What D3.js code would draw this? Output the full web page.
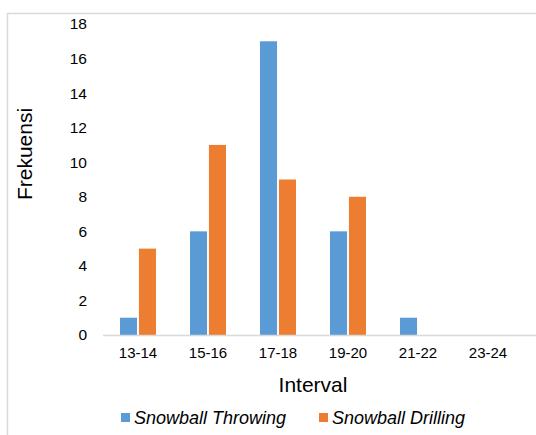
<!DOCTYPE html>
<html><head><meta charset="utf-8">
<script src="https://cdn.jsdelivr.net/npm/d3@7"></script>
<style>body{margin:0;background:#fff;}svg{display:block;font-family:"Liberation Sans",Arial,sans-serif;}</style>
</head><body>
<script>
const categories = ["13-14","15-16","17-18","19-20","21-22","23-24"];
const seriesNames = ["Snowball Throwing","Snowball Drilling"];
const throwing = [1,6,17,6,1,0];
const drilling = [5,11,9,8,0,0];
const yTicks = [0,2,4,6,8,10,12,14,16,18];
const colors = ["#5b9bd5","#ed7d31"];

(function(){
const W=536,H=435;
const svg=d3.select("body").append("svg").attr("width",W).attr("height",H);
svg.append("path").attr("d","M7.5,"+H+"V13.5H"+W).attr("fill","none").attr("stroke","#d9d9d9").attr("stroke-width",1.5);

const pL=103,pR=523,pT=24,pB=335;
const x=d3.scaleBand().domain(categories).range([pL,pR]);
const y=d3.scaleLinear().domain([0,18]).range([pB,pT]);
const xs=d3.scaleBand().domain(seriesNames).range([0,36]).paddingInner(0.1);
const series=[throwing,drilling];

series.forEach((vals,si)=>{
  svg.append("g").selectAll("rect").data(vals).join("rect")
    .attr("x",(d,i)=>x(categories[i])+x.bandwidth()/2-18+xs(seriesNames[si]))
    .attr("width",xs.bandwidth())
    .attr("y",d=>y(d)).attr("height",d=>pB-y(d))
    .attr("fill",colors[si]);
});

svg.append("line").attr("x1",pL).attr("x2",W).attr("y1",pB+0.5).attr("y2",pB+0.5).attr("stroke","#d9d9d9").attr("stroke-width",1.5);

const yAxis=svg.append("g").attr("transform",`translate(${pL},0)`)
  .call(d3.axisLeft(y).tickValues(yTicks).tickSize(0).tickPadding(16));
yAxis.select(".domain").remove();
yAxis.selectAll("text").attr("font-size",15.5).attr("fill","#000").attr("font-family","Liberation Sans, Arial, sans-serif");

const xAxis=svg.append("g").attr("transform",`translate(0,${pB})`)
  .call(d3.axisBottom(x).tickSize(0).tickPadding(12));
xAxis.select(".domain").remove();
xAxis.selectAll("text").attr("font-size",15).attr("fill","#000").attr("font-family","Liberation Sans, Arial, sans-serif");

svg.append("text").attr("x",(pL+pR)/2).attr("y",392).attr("text-anchor","middle")
  .attr("font-size",21).text("Interval");
svg.append("text").attr("transform","translate(32,154) rotate(-90)").attr("text-anchor","middle")
  .attr("font-size",21).text("Frekuensi");

const leg=[{x:121,tx:134},{x:319,tx:332}];
seriesNames.forEach((n,i)=>{
  svg.append("rect").attr("x",leg[i].x).attr("y",413).attr("width",9).attr("height",9).attr("fill",colors[i]);
  svg.append("text").attr("x",leg[i].tx).attr("y",423.5).attr("font-size",18).attr("font-style","italic").text(n);
});
})();
</script>
</body></html>
